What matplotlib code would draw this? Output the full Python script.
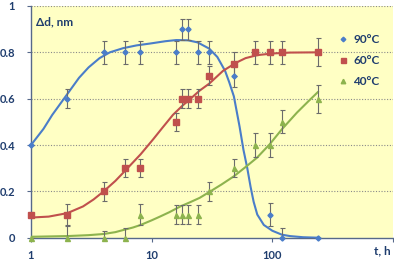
import matplotlib
matplotlib.use("Agg")
from matplotlib import pyplot as plt
from matplotlib.lines import Line2D
import numpy as np

plt.rcParams['font.family'] = ['Lato', 'DejaVu Sans']
plt.rcParams['font.weight'] = 'bold'

# measured points, t in hours, delta d in nm
t_pts = [1, 2, 4, 6, 8, 16, 18, 20, 24, 30, 48, 72, 96, 120, 240]

d90 = [0.4, 0.6, 0.8, 0.8, 0.8, 0.8, 0.9, 0.9, 0.8, 0.8, 0.7, None, 0.1, 0.0, 0.0]
e90 = [0.0, 0.04, 0.05, 0.05, 0.05, 0.05, 0.045, 0.045, 0.05, 0.05, 0.05, None, 0.05, 0.04, 0.0]

d60 = [0.1, 0.1, 0.2, 0.3, 0.3, 0.5, 0.6, 0.6, 0.6, 0.7, 0.75, 0.8, 0.8, 0.8, 0.8]
e60 = [0.0, 0.045, 0.04, 0.04, 0.04, 0.04, 0.04, 0.04, 0.04, 0.04, 0.05, 0.05, 0.05, 0.05, 0.06]

d40 = [0.0, 0.0, 0.0, 0.0, 0.1, 0.1, 0.1, 0.1, 0.1, 0.2, 0.3, 0.4, 0.4, 0.5, 0.6]
e40 = [0.0, 0.05, 0.03, 0.04, 0.045, 0.04, 0.04, 0.04, 0.04, 0.04, 0.04, 0.05, 0.05, 0.05, 0.06]

# fitted trend lines
fit90_t = [1, 1.27, 1.5, 2, 2.5, 3, 3.7, 4.5, 5.8, 7.5, 9.7, 13, 16, 20, 24, 30,
           35, 40.6, 44, 48, 53.5, 57.6, 62, 66, 70, 75, 85, 100, 120, 140, 180, 240]
fit90_d = [0.40, 0.47, 0.53, 0.62, 0.69, 0.735, 0.775, 0.80, 0.818, 0.83, 0.838, 0.848,
           0.853, 0.852, 0.843, 0.816, 0.78, 0.72, 0.67, 0.61, 0.48, 0.38, 0.30, 0.22,
           0.155, 0.10, 0.055, 0.03, 0.013, 0.007, 0.002, 0.0]

fit60_t = [1, 1.4, 2, 2.7, 3.3, 4, 5, 5.8, 7, 8.1, 10.3, 12.3, 15, 18, 21, 25, 30,
           39, 50, 60, 75, 100, 140, 240]
fit60_d = [0.087, 0.091, 0.106, 0.135, 0.165, 0.2, 0.245, 0.28, 0.325, 0.36, 0.425,
           0.475, 0.53, 0.57, 0.60, 0.635, 0.665, 0.72, 0.755, 0.775, 0.788, 0.795,
           0.799, 0.80]

fit40_t = [1, 2, 3, 4, 5, 5.8, 7, 8.1, 10, 11.7, 14, 17.3, 20.8, 25, 30, 38, 48,
           60, 74.5, 95, 120, 160, 200, 240]
fit40_d = [0.004, 0.007, 0.011, 0.016, 0.024, 0.033, 0.044, 0.055, 0.075, 0.091, 0.11,
           0.135, 0.153, 0.172, 0.197, 0.23, 0.265, 0.305, 0.345, 0.403, 0.468, 0.54,
           0.59, 0.63]

labels = ['90°C', '60°C', '40°C']
colors = ['#4A7DC9', '#C0504D', '#8DB34E']
markers = ['D', 's', '^']
msizes = [2.6, 4.0, 3.6]
text_col = '#1F3D6E'

fig = plt.figure(figsize=(3.94, 2.61), dpi=100)
ax = fig.add_axes([31/394, 23.3/261, 362/394, 231.7/261])
ax.set_facecolor('#FFFFC4')

ax.set_xscale('log')
ax.set_xlim(1, 1000)
ax.set_ylim(0, 1)

for y in [0.2, 0.4, 0.6, 0.8, 1.0]:
    ax.axhline(y, color='#8A8A8A', lw=0.8, ls=(0, (1, 1.5)), zorder=1)

fits = [(fit90_t, fit90_d), (fit60_t, fit60_d), (fit40_t, fit40_d)]
series = [(d90, e90), (d60, e60), (d40, e40)]
for i in range(3):
    ax.plot(fits[i][0], fits[i][1], color=colors[i], lw=1.5, zorder=3,
            solid_capstyle='round')
    dd, ee = series[i]
    tt = [t for t, d in zip(t_pts, dd) if d is not None]
    yy = [d for d in dd if d is not None]
    er = [e for e, d in zip(ee, dd) if d is not None]
    ax.errorbar(tt, yy, yerr=er, fmt='none', ecolor='#6B6B6B', elinewidth=0.8,
                capsize=1.8, capthick=0.8, zorder=4)
    ax.plot(tt, yy, ls='none', marker=markers[i], ms=msizes[i], color=colors[i],
            mec=colors[i], zorder=5, clip_on=False)

for s in ['top', 'right']:
    ax.spines[s].set_visible(False)
for s in ['left', 'bottom']:
    ax.spines[s].set_color('#56698A')
    ax.spines[s].set_linewidth(1.0)

ax.set_xticks([1, 10, 100, 1000])
ax.set_xticklabels(['1', '10', '100', ''])
ax.xaxis.set_minor_locator(matplotlib.ticker.NullLocator())
ax.set_yticks([0, 0.2, 0.4, 0.6, 0.8, 1.0])
ax.set_yticklabels(['0', '0.2', '0.4', '0.6', '0.8', '1'])
ax.tick_params(axis='both', colors='#56698A', labelcolor=text_col, labelsize=8,
               length=3, width=0.8)
ax.tick_params(axis='x', pad=5.5)
ax.tick_params(axis='y', pad=8.5)
for lab in ax.get_xticklabels() + ax.get_yticklabels():
    lab.set_fontweight('bold')

fig.text(36/394, 1 - 22/261, 'Δd, nm', ha='left', va='center',
         fontsize=8.5, fontweight='bold', color=text_col)
fig.text(391/394, 1 - 251/261, 't, h', ha='right', va='center',
         fontsize=8.5, fontweight='bold', color=text_col)

handles = [Line2D([], [], ls='none', marker=markers[i], ms=msizes[i] * 0.9,
                  color=colors[i]) for i in range(3)]
ax.legend(handles, labels, loc='upper left', bbox_to_anchor=(338/394, 1 - 34/261),
          bbox_transform=fig.transFigure, frameon=False, handlelength=0.8,
          handletextpad=0.5, labelspacing=0.85, borderpad=0, borderaxespad=0,
          prop={'size': 8.5, 'weight': 'bold'}, labelcolor=text_col)

fig.savefig('out.png', dpi=100)
